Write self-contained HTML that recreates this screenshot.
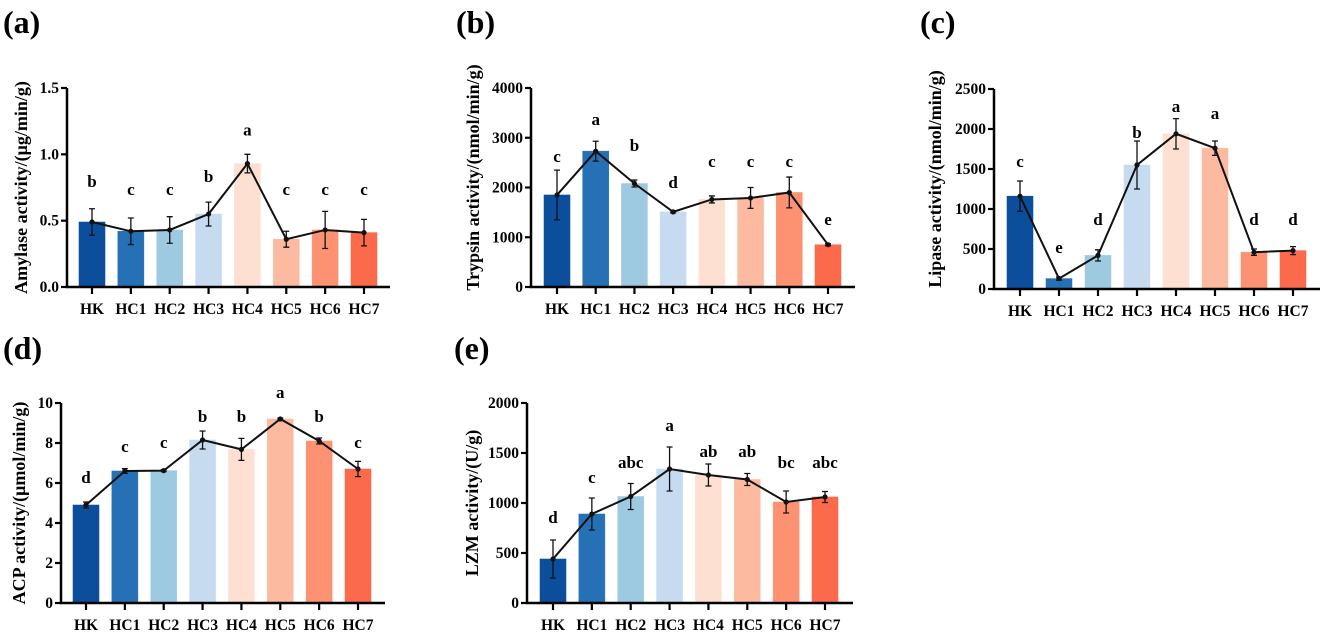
<!DOCTYPE html>
<html><head><meta charset="utf-8">
<style>
body{margin:0;background:#fff;}
svg{display:block;}
svg text{font-family:"Liberation Serif","Times New Roman","DejaVu Serif",serif;font-weight:bold;}
</style></head>
<body>
<svg id="fig" width="1325" height="632"></svg>
<script>
const categories = ["HK","HC1","HC2","HC3","HC4","HC5","HC6","HC7"];
const barColors = ["#0b4f9c","#2670b6","#9ecae1","#c6dbef","#fde0d2","#fcbba1","#fc9272","#fb6a4a"];

const aMeans = [0.49,0.42,0.43,0.55,0.93,0.36,0.43,0.41];
const aErr = [0.10,0.10,0.10,0.09,0.07,0.06,0.14,0.10];
const aLetters = ["b","c","c","b","a","c","c","c"];
const aLetterVal = [0.79,0.73,0.73,0.83,1.18,0.73,0.73,0.73];
const aTicks = [0,0.5,1.0,1.5];
const aTickLabels = ["0.0","0.5","1.0","1.5"];

const bMeans = [1850,2730,2080,1510,1760,1790,1900,850];
const bErr = [500,200,70,20,70,210,310,20];
const bLetters = ["c","a","b","d","c","c","c","e"];
const bLetterVal = [2613,3357,2834,2090,2513,2513,2513,1347];
const bTicks = [0,1000,2000,3000,4000];
const bTickLabels = ["0","1000","2000","3000","4000"];

const cMeans = [1160,130,420,1550,1940,1760,460,480];
const cErr = [190,20,70,300,190,90,40,50];
const cLetters = ["c","e","d","b","a","a","d","d"];
const cLetterVal = [1587,512,862,1950,2275,2187,862,862];
const cTicks = [0,500,1000,1500,2000,2500];
const cTickLabels = ["0","500","1000","1500","2000","2500"];

const dMeans = [4.9,6.6,6.62,8.15,7.68,9.2,8.1,6.7];
const dErr = [0.15,0.12,0.05,0.45,0.55,0.05,0.15,0.38];
const dLetters = ["d","c","c","b","b","a","b","c"];
const dLetterVal = [6.25,7.8,8.0,9.3,9.3,10.5,9.3,8.0];
const dTicks = [0,2,4,6,8,10];
const dTickLabels = ["0","2","4","6","8","10"];

const eMeans = [440,890,1065,1340,1280,1235,1010,1060];
const eErr = [190,160,130,220,110,60,110,55];
const eLetters = ["d","c","abc","a","ab","ab","bc","abc"];
const eLetterVal = [850,1250,1400,1770,1510,1510,1400,1400];
const eTicks = [0,500,1000,1500,2000];
const eTickLabels = ["0","500","1000","1500","2000"];

const NS="http://www.w3.org/2000/svg";
const svg=document.getElementById('fig');
const FF='"Liberation Serif","Times New Roman","DejaVu Serif",serif';
function mk(tag,attrs,parent){const e=document.createElementNS(NS,tag);for(const k in attrs)e.setAttribute(k,attrs[k]);if(tag==='text'){e.setAttribute('font-family',FF);e.setAttribute('font-weight','bold');}(parent||svg).appendChild(e);return e;}

function panel(p){
  const g=mk('g',{});
  
  
  const yMax=p.ticks[p.ticks.length-1];
  const y=v=>p.y0-(v/yMax)*(p.y0-p.yTop);
  const step=(p.xLast-p.xFirst)/(categories.length-1);
  const x=i=>p.xFirst+i*step;
  const pl=mk('text',{x:p.lx,y:p.ly,'font-size':32},g);
  pl.textContent='('+p.id+')';
  
  
  p.means.forEach((m,i)=>{
    const r=mk('rect',{x:x(i)-13,y:y(m),width:26,height:p.y0-y(m),fill:barColors[i],stroke:barColors[i],'stroke-width':0.6,'stroke-opacity':0.9},g);
    
    
  });
  p.means.forEach((m,i)=>{
    const e=mk('path',{d:`M${x(i)},${y(m+p.err[i])}V${y(Math.max(0,m-p.err[i]))}M${x(i)-3},${y(m+p.err[i])}h6M${x(i)-3},${y(Math.max(0,m-p.err[i]))}h6`,stroke:'#111','stroke-width':1.3,fill:'none'},g);
    
    
  });
  const ln=mk('polyline',{points:p.means.map((m,i)=>x(i)+','+y(m)).join(' '),fill:'none',stroke:'#111','stroke-width':2},g);
  
  
  p.means.forEach((m,i)=>{
    const c=mk('circle',{cx:x(i),cy:y(m),r:2.6,fill:'#111'},g);
    
    
  });
  p.letters.forEach((l,i)=>{
    const t=mk('text',{x:x(i),y:y(p.letterVal[i])+5,'font-size':17,'text-anchor':'middle'},g);
    t.textContent=l;
    
    
  });
  const ax=mk('path',{d:`M${p.ax},${p.yTop}V${p.y0}H${p.xEnd}`,stroke:'#000','stroke-width':2.5,fill:'none'},g);
  
  
  p.ticks.forEach((tv,i)=>{
    mk('line',{x1:p.ax-6,x2:p.ax,y1:y(tv),y2:y(tv),stroke:'#000','stroke-width':2.2},g);
    const t=mk('text',{x:p.ax-8,y:y(tv)+5,'font-size':15.5,'text-anchor':'end'},g);
    t.textContent=p.tickLabels[i];
    
    
  });
  categories.forEach((c,i)=>{
    mk('line',{x1:x(i),x2:x(i),y1:p.y0,y2:p.y0+7,stroke:'#000','stroke-width':2.2},g);
    const t=mk('text',{x:x(i),y:p.y0+27,'font-size':15.5,'text-anchor':'middle'},g);
    t.textContent=c;
    
    
  });
  const yc=(p.y0+p.yTop)/2+p.tShift;
  const tt=mk('text',{x:p.tx,y:yc,'font-size':18,'text-anchor':'middle',transform:`rotate(-90 ${p.tx} ${yc})`},g);
  tt.textContent=p.title;
  
  
}

panel({id:'a',means:aMeans,err:aErr,letters:aLetters,letterVal:aLetterVal,ticks:aTicks,tickLabels:aTickLabels,
  ax:67,yTop:88,y0:287,xFirst:92,xLast:364,xEnd:390,lx:3,ly:33,tx:27,tShift:0,title:"Amylase activity/(μg/min/g)"});
panel({id:'b',means:bMeans,err:bErr,letters:bLetters,letterVal:bLetterVal,ticks:bTicks,tickLabels:bTickLabels,
  ax:531,yTop:88,y0:287,xFirst:557,xLast:828,xEnd:855,lx:456,ly:33,tx:479,tShift:-10,title:"Trypsin activity/(nmol/min/g)"});
panel({id:'c',means:cMeans,err:cErr,letters:cLetters,letterVal:cLetterVal,ticks:cTicks,tickLabels:cTickLabels,
  ax:994,yTop:89,y0:289,xFirst:1020,xLast:1293,xEnd:1320,lx:920,ly:33,tx:941,tShift:-10,title:"Lipase activity/(nmol/min/g)"});
panel({id:'d',means:dMeans,err:dErr,letters:dLetters,letterVal:dLetterVal,ticks:dTicks,tickLabels:dTickLabels,
  ax:61,yTop:403,y0:603,xFirst:86,xLast:358,xEnd:385,lx:3,ly:359,tx:25,tShift:0,title:"ACP activity/(μmol/min/g)"});
panel({id:'e',means:eMeans,err:eErr,letters:eLetters,letterVal:eLetterVal,ticks:eTicks,tickLabels:eTickLabels,
  ax:527,yTop:403,y0:603,xFirst:553,xLast:825,xEnd:853,lx:454,ly:359,tx:478,tShift:0,title:"LZM activity/(U/g)"});
</script>
</body></html>
